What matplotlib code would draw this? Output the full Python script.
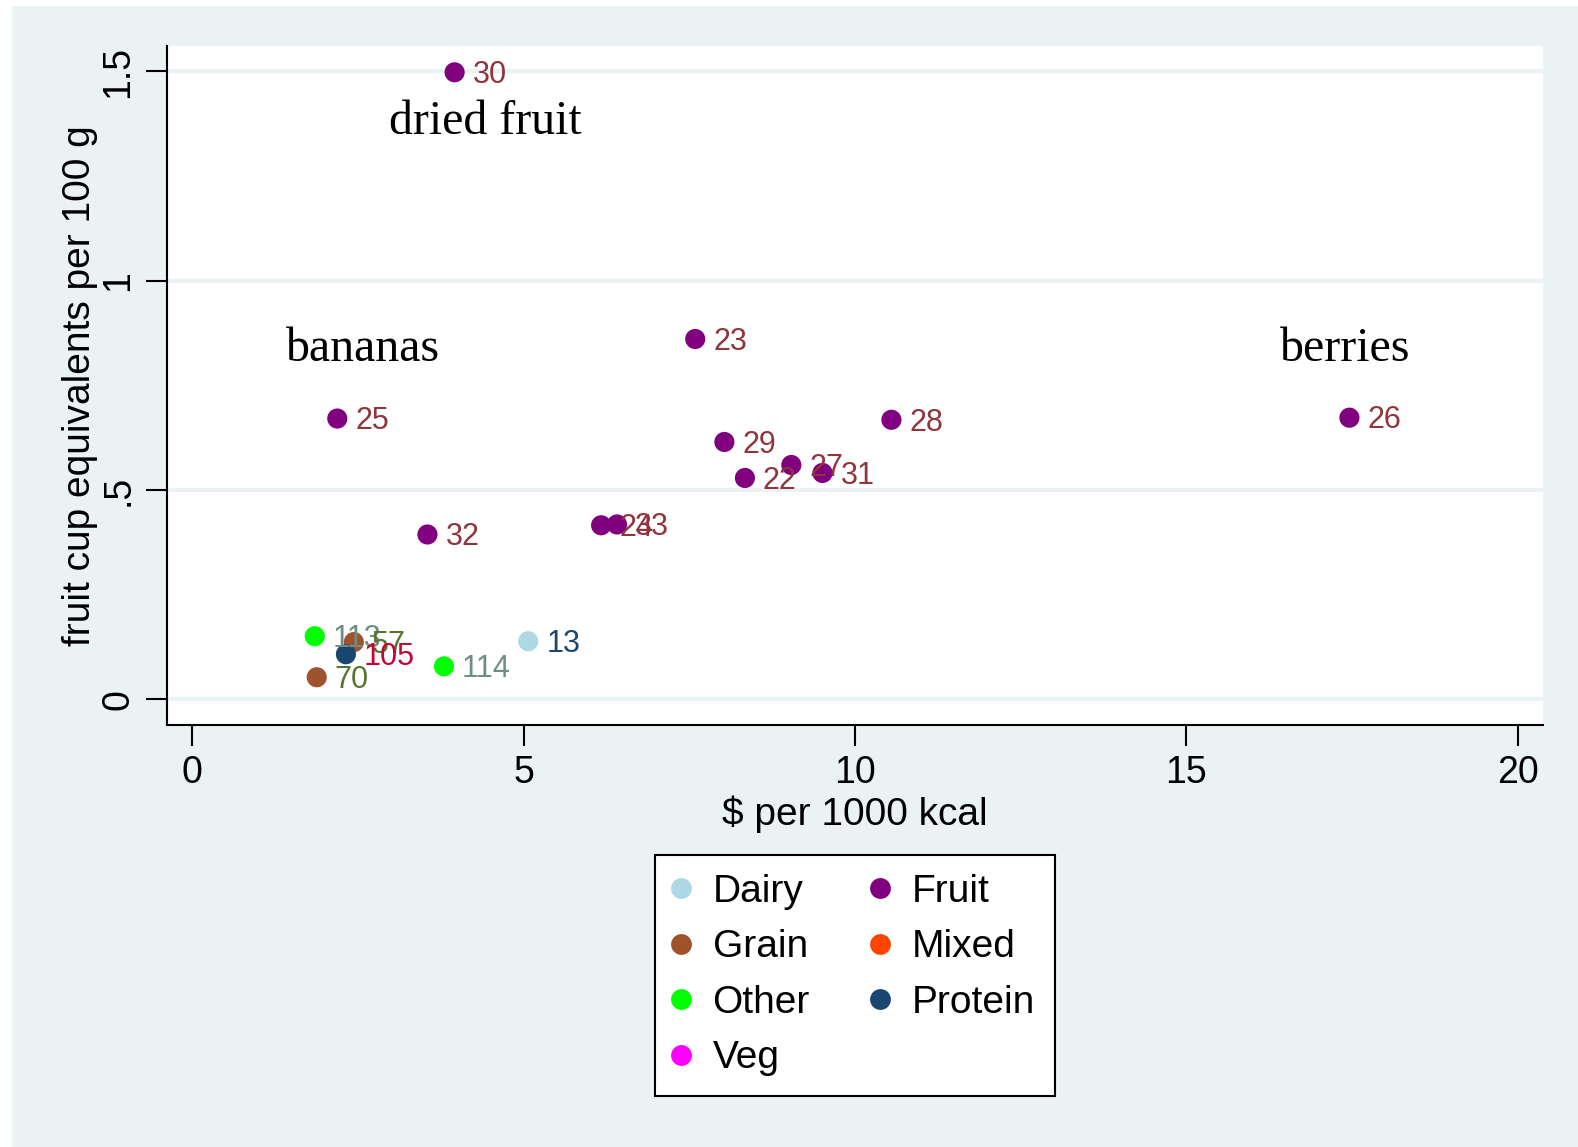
import matplotlib

matplotlib.use("Agg")
import matplotlib.pyplot as plt
from matplotlib.lines import Line2D
from matplotlib.patches import Rectangle

plt.rcParams["font.family"] = ["Liberation Sans", "DejaVu Sans"]

# data
groups = ["Dairy", "Grain", "Other", "Veg", "Fruit", "Mixed", "Protein"]
marker_colors = {
    "Dairy": "#add8e6", "Fruit": "#800080", "Grain": "#a0522d", "Mixed": "#ff4500",
    "Other": "#00ff00", "Protein": "#1a476f", "Veg": "#ff00ff",
}
label_colors = {
    "Dairy": "#1a476f", "Fruit": "#90353b", "Grain": "#55752f", "Mixed": "#e37e00",
    "Other": "#6e8e84", "Protein": "#c10534", "Veg": "#938dd2",
}

point_ids = [30, 23, 25, 26, 28, 29, 27, 31, 22, 32, 24, 33, 113, 57, 105, 70, 114, 13]
cost = [3.96, 7.59, 2.19, 17.46, 10.55, 8.03, 9.04, 9.51, 8.34, 3.55, 6.17, 6.41,
        1.85, 2.44, 2.32, 1.88, 3.80, 5.07]
fruit_cups = [1.498, 0.861, 0.671, 0.673, 0.668, 0.615, 0.560, 0.541, 0.529, 0.394, 0.416, 0.418,
              0.151, 0.137, 0.108, 0.053, 0.079, 0.139]
point_group = ["Fruit"] * 12 + ["Other", "Grain", "Protein", "Grain", "Other", "Dairy"]

notes = ["dried fruit", "bananas", "berries"]
note_x = [4.42, 2.58, 17.40]
note_y = [1.38, 0.836, 0.836]

x_ticks = [0, 5, 10, 15, 20]
y_ticks = [0, 0.5, 1, 1.5]
y_tick_labels = ["0", ".5", "1", "1.5"]

bg = "#eaf2f3"
fig = plt.figure(figsize=(15.78, 11.47), dpi=100)
fig.patch.set_facecolor("white")
fig.patches.append(Rectangle((12 / 1578, 0), 1 - 12 / 1578, 1 - 6 / 1147,
                             transform=fig.transFigure, facecolor=bg, edgecolor="none", zorder=-10))

ax = fig.add_axes([0.1058, 0.3683, 0.8720, 0.5913])
ax.set_facecolor("white")
ax.set_xlim(-0.38, 20.38)
ax.set_ylim(-0.06, 1.56)

for s in ["top", "right"]:
    ax.spines[s].set_visible(False)
for s in ["left", "bottom"]:
    ax.spines[s].set_linewidth(1.5)

for yv in y_ticks:
    ax.axhline(yv, color=bg, lw=3, zorder=0)

for g in groups:
    xs = [x for x, pg in zip(cost, point_group) if pg == g]
    ys = [y for y, pg in zip(fruit_cups, point_group) if pg == g]
    if xs:
        ax.scatter(xs, ys, s=210, color=marker_colors[g], edgecolors="none", zorder=3)

for pid, x, y, g in zip(point_ids, cost, fruit_cups, point_group):
    ax.annotate(str(pid), (x, y), xytext=(13, -2), textcoords="offset points",
                ha="left", va="center", fontsize=22, color=label_colors[g], zorder=4)

for t, x, y in zip(notes, note_x, note_y):
    ax.text(x, y, t, ha="center", va="center", fontsize=34.5, family="Liberation Serif", zorder=4)

ax.set_xticks(x_ticks)
ax.set_xticklabels([str(v) for v in x_ticks])
ax.set_yticks(y_ticks)
ax.set_yticklabels(y_tick_labels, rotation=90, va="center")
ax.tick_params(axis="both", length=15, width=1.5, labelsize=27, pad=7)
ax.set_xlabel("$ per 1000 kcal", fontsize=28, labelpad=3)
ax.set_ylabel("fruit cup equivalents per 100 g", fontsize=28, labelpad=2)

handles = [Line2D([], [], ls="none", marker="o", markersize=15, color=marker_colors[g],
                  markeredgecolor="none") for g in groups]
leg = ax.legend(handles, groups, ncol=2, loc="upper center", bbox_to_anchor=(0.5, -0.163),
                fontsize=28, frameon=True, fancybox=False, edgecolor="black", framealpha=1,
                handletextpad=0.67, columnspacing=1.65, labelspacing=0.5, borderpad=0.5,
                handlelength=0.3)
leg.get_frame().set_linewidth(1.5)

fig.savefig("out.png", dpi=100, facecolor=fig.get_facecolor())
